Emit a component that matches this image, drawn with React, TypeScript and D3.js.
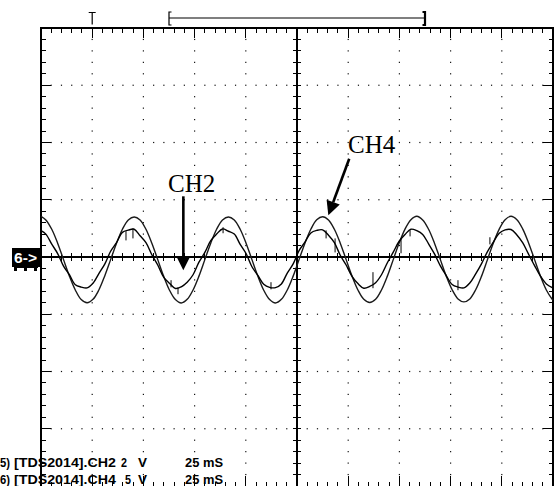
import * as d3 from "d3";

// sample times in ms (25 ms/div, 10 divisions) shared by both channels
const timeMs = [
  0, 2.375, 5.25, 8.125, 11, 13.875, 16.75, 19.625, 22.5, 25.375, 28.25, 31.125,
  34, 36.875, 39.75, 42.625, 45.5, 48.375, 51.25, 54.125, 57, 59.875, 62.75,
  65.625, 68.5, 71.375, 74.25, 77.125, 80, 82.875, 85.75, 88.625, 91.5, 94.375,
  97.25, 100.125, 103, 105.875, 108.75, 111.625, 114.5, 117.375, 120.25, 123.125,
  126, 128.875, 131.75, 134.625, 137.5, 140.375, 143.25, 146.125, 149, 151.875,
  154.75, 157.625, 160.5, 163.375, 166.25, 169.125, 172, 174.875, 177.75,
  180.625, 183.5, 186.375, 189.25, 192.125, 195, 197.875, 200.75, 203.625, 206.5,
  209.375, 212.25, 215.125, 218, 220.875, 223.75, 226.625, 229.5, 232.375,
  235.25, 238.125, 241, 243.875, 246.75, 249.625, 250,
];

// CH2, 2 V/div (noisy trace)
const ch2Volts = [
  0.92,
  0.8, 0.45, 0.12, -0.32, -0.62, -0.97, -1.05, -1.08, -0.92, -0.58, -0.25, 0.2, 0.5, 0.86, 0.94, 0.97,
  0.74, 0.5, 0.08, -0.28, -0.7, -0.92, -1.1, -1.04, -0.88, -0.62, -0.18, 0.16, 0.57, 0.8, 0.98, 0.9,
  0.8, 0.44, 0.12, -0.34, -0.64, -0.95, -1.06, -1.07, -0.94, -0.56, -0.24, 0.22, 0.52, 0.84, 0.93, 0.95,
  0.76, 0.5, 0.06, -0.28, -0.68, -0.93, -1.09, -1.03, -0.9, -0.62, -0.2, 0.17, 0.55, 0.79, 0.97, 0.92,
  0.79, 0.46, 0.11, -0.31, -0.65, -0.96, -1.05, -1.08, -0.91, -0.59, -0.23, 0.19, 0.52, 0.83, 0.95, 0.96,
  0.77, 0.49, 0.09, -0.3, -0.67, -0.94, -1.07,
  -1.08,
];

// CH4, 5 V/div (clean trace)
const ch4Volts = [
  3.55,
  3.24, 2.42, 1.21, -0.23, -1.67, -2.88, -3.72, -4.0, -3.7, -2.88, -1.65, -0.23, 1.21, 2.42, 3.24, 3.5,
  3.24, 2.42, 1.2, -0.23, -1.67, -2.9, -3.72, -4.02, -3.7, -2.88, -1.67, -0.23, 1.21, 2.42, 3.24, 3.5,
  3.24, 2.42, 1.21, -0.23, -1.67, -2.9, -3.72, -4.02, -3.7, -2.88, -1.67, -0.23, 1.21, 2.42, 3.25, 3.52,
  3.24, 2.42, 1.21, -0.23, -1.67, -2.88, -3.7, -3.98, -3.7, -2.88, -1.67, -0.23, 1.22, 2.44, 3.26, 3.56,
  3.24, 2.42, 1.21, -0.23, -1.67, -2.86, -3.66, -3.92, -3.66, -2.86, -1.67, -0.23, 1.22, 2.44, 3.26, 3.56,
  3.26, 2.44, 1.21, -0.23, -1.67, -2.88, -3.7,
  -3.78,
];

// short vertical glitches on CH2 (ms, high V, low V)
const glitchTimeMs = [41.5, 44.9, 63.5, 66.9, 88.9, 112.3, 139.2, 143.6, 162.1, 175.8, 180.2, 203.6, 219.2];
const glitchHighV = [0.9, 1.0, -0.81, -1.06, 1.04, -0.88, 0.93, 0.65, -0.53, 0.65, 0.93, -0.81, 0.69];
const glitchLowV = [0.58, 0.65, -1.06, -1.3, 0.83, -1.13, 0.65, 0.16, -1.09, 0.13, 0.72, -1.16, 0.44];

const ch2Label = "CH2";
const ch4Label = "CH4";
const triggerMs = 25;
const windowMs = [62.5, 187.5];
const statusLines = [
  ["5)", "[TDS2014].CH2", "2", "V", "25 mS"],
  ["6)", "[TDS2014].CH4", "5", "V", "25 mS"],
];

export default function App() {
  const W = 554;
  const H = 486;
  const left = 41;
  const right = 553;
  const top = 28;
  const bottom = 486;

  const x = d3.scaleLinear().domain([0, 250]).range([left, right]);
  const yDiv = d3.scaleLinear().domain([-4, 4]).range([bottom, top]);
  const yCh2 = (v: number) => yDiv(v / 2);
  const yCh4 = (v: number) => yDiv(v / 5);

  const xMinor = d3.range(0, 250.001, 5);
  const yMinor = d3.range(-4, 4.001, 0.2);
  const majX = (t: number) => Math.abs(t / 25 - Math.round(t / 25)) < 1e-6;
  const majY = (d: number) => Math.abs(d - Math.round(d)) < 1e-6;
  const xMajorInner = d3.range(25, 250, 25).filter((t) => t !== 125);
  const yMajorInner = [-3, -2, -1, 1, 2, 3];

  const cx = x(125);
  const cy = yDiv(0);

  // border + center ticks
  let ticks = "";
  xMinor.forEach((t) => {
    const px = x(t);
    const len = majX(t) ? 10 : 4.5;
    ticks += `M${px},${top}V${top + len}`;
    ticks += `M${px},${bottom}V${bottom - len}`;
    ticks += `M${px},${cy - 4}V${cy + 4}`;
  });
  yMinor.forEach((d) => {
    const py = yDiv(d);
    const len = majY(d) ? 10 : 4.5;
    ticks += `M${left},${py}H${left + len}`;
    ticks += `M${right},${py}H${right - len}`;
    ticks += `M${cx - 4},${py}H${cx + 4}`;
  });

  const dots: [number, number][] = [];
  xMajorInner.forEach((t) =>
    yMinor.forEach((d) => {
      if (Math.abs(d) > 3.99 || Math.abs(d) < 1e-6) return;
      dots.push([x(t), yDiv(d)]);
    }),
  );
  yMajorInner.forEach((d) =>
    xMinor.forEach((t) => {
      if (t < 1 || t > 249 || Math.abs(t - 125) < 1e-6 || majX(t)) return;
      dots.push([x(t), yDiv(d)]);
    }),
  );

  const trace = (scaleY: (v: number) => number) =>
    d3
      .line<number>()
      .x((_, i) => x(timeMs[i]))
      .y((v) => scaleY(v))
      .curve(d3.curveCatmullRom.alpha(0.5));

  const arrow = (x1: number, y1: number, x2: number, y2: number) => {
    const dx = x2 - x1;
    const dy = y2 - y1;
    const len = Math.hypot(dx, dy);
    const ux = dx / len;
    const uy = dy / len;
    const hl = 14;
    const hw = 7;
    const bx = x2 - ux * hl;
    const by = y2 - uy * hl;
    return (
      <g>
        <line x1={x1} y1={y1} x2={bx} y2={by} stroke="#000" strokeWidth={2.6} />
        <polygon
          points={`${x2},${y2} ${bx - uy * hw},${by + ux * hw} ${bx + uy * hw},${by - ux * hw}`}
          fill="#000"
        />
      </g>
    );
  };

  const tx = x(triggerMs);
  const w0 = x(windowMs[0]);
  const w1 = x(windowMs[1]);
  const segX = [0, 14, 121, 138, 185];
  const segLen = [10, 102, 6, 9, 38];

  return (
    <svg
      width={W}
      height={H}
      style={{ position: "absolute", left: 0, top: 0, background: "#fff" }}
    >
      <rect width={W} height={H} fill="#fff" />

      {/* dotted graticule */}
      {dots.map(([px, py], i) => (
        <rect key={i} x={px - 0.6} y={py - 0.6} width={1.2} height={1.2} fill="#111" />
      ))}

      {/* frame and center axes */}
      <g stroke="#000" fill="none" shapeRendering="crispEdges">
        <path d={`M${left},${bottom}V${top}H${right}V${bottom}`} strokeWidth={1.2} />
        <path d={`M${left},${cy}H${right}M${cx},${top}V${bottom}`} strokeWidth={1.2} />
        <path d={ticks} strokeWidth={1} />
      </g>

      {/* trigger position and window markers */}
      <g stroke="#000" fill="none">
        <path d={`M${tx - 3.5},12.5H${tx + 3.5}M${tx},12.5V24.5`} strokeWidth={1.2} />
        <path d={`M${w0 + 2.5},12H${w0}V25H${w0 + 2.5}`} strokeWidth={1.2} />
        <path d={`M${w0},18H${w1}`} strokeWidth={1.2} />
        <path d={`M${w1 - 2.5},12H${w1}V25H${w1 - 2.5}`} strokeWidth={2.2} />
      </g>

      {/* channel ground marker */}
      <g>
        <rect x={12} y={248} width={28} height={19} fill="#000" />
        <rect x={14} y={266} width={24} height={2} fill="#000" />
        <rect x={14} y={266} width={3} height={5} fill="#000" />
        <rect x={24} y={266} width={3} height={5} fill="#000" />
        <rect x={34} y={266} width={3} height={5} fill="#000" />
        <text
          x={14}
          y={262.5}
          fill="#fff"
          fontFamily="'Liberation Sans Narrow', 'Liberation Sans', sans-serif"
          fontWeight="bold"
          fontSize={14}
          textLength={23}
          lengthAdjust="spacingAndGlyphs"
        >
          6-&gt;
        </text>
      </g>

      {/* waveforms */}
      <path d={trace(yCh4)(ch4Volts) ?? ""} fill="none" stroke="#1a1a1a" strokeWidth={1.4} />
      <path d={trace(yCh2)(ch2Volts) ?? ""} fill="none" stroke="#000" strokeWidth={1.4} />
      <g stroke="#000" strokeWidth={1}>
        {glitchTimeMs.map((t, i) => (
          <line key={i} x1={x(t)} x2={x(t)} y1={yCh2(glitchHighV[i])} y2={yCh2(glitchLowV[i])} />
        ))}
      </g>

      {/* annotations */}
      <g fontFamily="'Liberation Serif', 'Times New Roman', serif" fontSize={25} fill="#000">
        <text x={x(62)} y={yDiv(1.13)}>{ch2Label}</text>
        <text x={x(149.9)} y={yDiv(1.82)}>{ch4Label}</text>
      </g>
      {arrow(x(69.5), yDiv(1.06), x(69.5), yDiv(-0.23))}
      {arrow(x(150.5), yDiv(1.715), x(140.3), yDiv(0.728))}

      {/* status readout */}
      <g
        fontFamily="'Liberation Sans Narrow', 'Liberation Sans', sans-serif"
        fontWeight="bold"
        fontSize={13}
        fill="#000"
      >
        {statusLines.map((line, li) =>
          line.map((s, si) => (
            <text
              key={`${li}-${si}`}
              x={segX[si] + (li === 1 && si === 2 ? 4 : 0)}
              y={li === 0 ? 466.5 : 483.5}
              textLength={segLen[si]}
              lengthAdjust="spacingAndGlyphs"
            >
              {s}
            </text>
          )),
        )}
      </g>
    </svg>
  );
}
